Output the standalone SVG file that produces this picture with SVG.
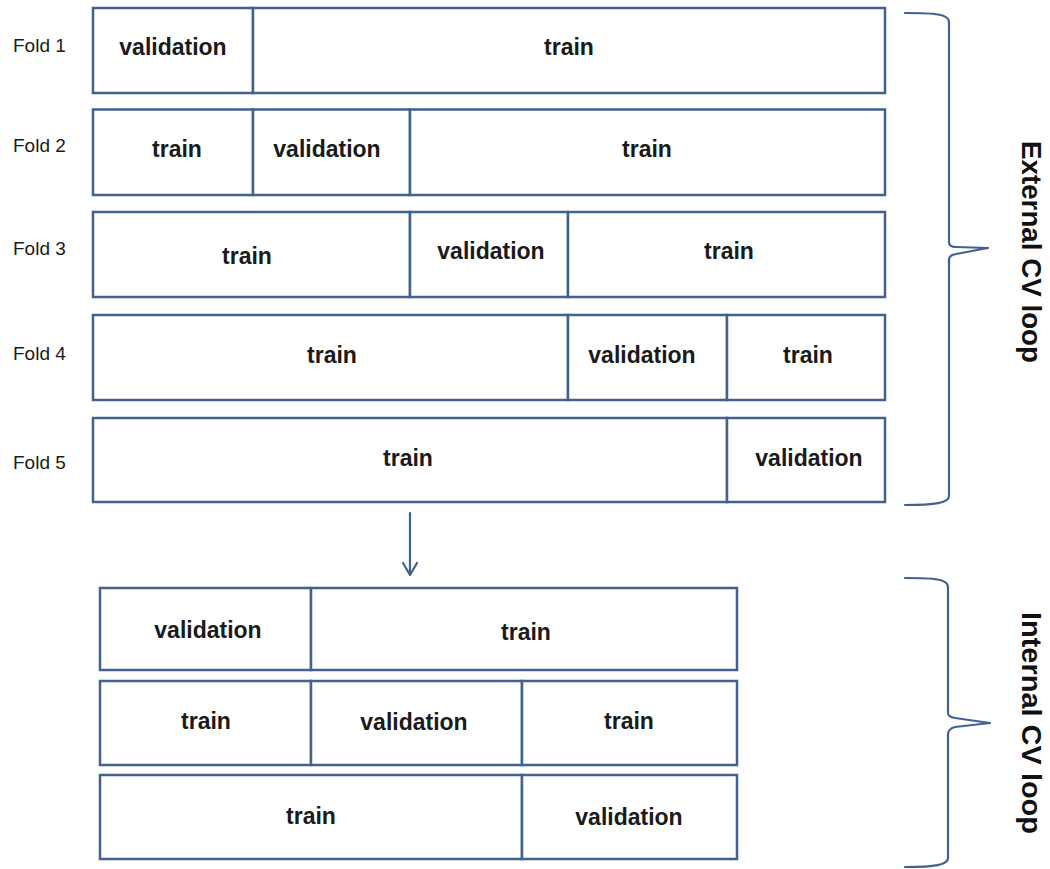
<svg xmlns="http://www.w3.org/2000/svg" width="1050" height="869" viewBox="0 0 1050 869">
<style>
.seg{fill:#fff;stroke:#41628f;stroke-width:2.5}
.lbl{font-family:"Liberation Sans",Arial,sans-serif;font-weight:bold;font-size:23px;fill:#1a1a1a;text-anchor:middle}
.fold{font-family:"Liberation Sans",Arial,sans-serif;font-size:19px;fill:#1a1a1a}
.side{font-family:"Liberation Sans",Arial,sans-serif;font-weight:bold;font-size:27px;fill:#111;text-anchor:middle}
.con{fill:none;stroke:#41628f;stroke-width:2.2;stroke-linejoin:round;stroke-linecap:round}
</style>
<rect width="1050" height="869" fill="#fff"/>
<g id="fold-labels">
<text class="fold" x="13" y="52">Fold 1</text>
<text class="fold" x="13" y="152">Fold 2</text>
<text class="fold" x="13" y="255">Fold 3</text>
<text class="fold" x="13" y="360">Fold 4</text>
<text class="fold" x="13" y="469">Fold 5</text>
</g>
<g id="fold1">
<rect class="seg" x="93" y="8" width="160" height="85"/>
<rect class="seg" x="253" y="8" width="632" height="85"/>
<text class="lbl" x="173" y="55">validation</text>
<text class="lbl" x="569" y="55">train</text>
</g>
<g id="fold2">
<rect class="seg" x="93" y="109.5" width="160" height="85.5"/>
<rect class="seg" x="253" y="109.5" width="157" height="85.5"/>
<rect class="seg" x="410" y="109.5" width="475" height="85.5"/>
<text class="lbl" x="177" y="157">train</text>
<text class="lbl" x="327" y="157">validation</text>
<text class="lbl" x="647" y="157">train</text>
</g>
<g id="fold3">
<rect class="seg" x="93" y="212" width="317" height="85"/>
<rect class="seg" x="410" y="212" width="158" height="85"/>
<rect class="seg" x="568" y="212" width="317" height="85"/>
<text class="lbl" x="247" y="264">train</text>
<text class="lbl" x="491" y="259">validation</text>
<text class="lbl" x="729" y="259">train</text>
</g>
<g id="fold4">
<rect class="seg" x="93" y="315" width="475" height="85"/>
<rect class="seg" x="568" y="315" width="159" height="85"/>
<rect class="seg" x="727" y="315" width="158" height="85"/>
<text class="lbl" x="332" y="363">train</text>
<text class="lbl" x="642" y="363">validation</text>
<text class="lbl" x="808" y="363">train</text>
</g>
<g id="fold5">
<rect class="seg" x="93" y="418" width="634" height="84"/>
<rect class="seg" x="727" y="418" width="158" height="84"/>
<text class="lbl" x="408" y="466">train</text>
<text class="lbl" x="809" y="466">validation</text>
</g>
<g id="inner1">
<rect class="seg" x="100" y="588" width="211" height="82"/>
<rect class="seg" x="311" y="588" width="426" height="82"/>
<text class="lbl" x="208" y="638">validation</text>
<text class="lbl" x="526" y="640">train</text>
</g>
<g id="inner2">
<rect class="seg" x="100" y="681" width="211" height="84"/>
<rect class="seg" x="311" y="681" width="211" height="84"/>
<rect class="seg" x="522" y="681" width="215" height="84"/>
<text class="lbl" x="206" y="729">train</text>
<text class="lbl" x="414" y="730">validation</text>
<text class="lbl" x="629" y="729">train</text>
</g>
<g id="inner3">
<rect class="seg" x="100" y="775" width="422" height="84"/>
<rect class="seg" x="522" y="775" width="215" height="84"/>
<text class="lbl" x="311" y="824">train</text>
<text class="lbl" x="629" y="825">validation</text>
</g>
<g id="external-label">
<text class="side" transform="translate(1022,252) rotate(90)" x="0" y="0" textLength="222" lengthAdjust="spacingAndGlyphs">External CV loop</text>
</g>
<g id="internal-label">
<text class="side" transform="translate(1022,723) rotate(90)" x="0" y="0" textLength="222" lengthAdjust="spacingAndGlyphs">Internal CV loop</text>
</g>
<g id="connectors">
<path class="con" d="M905,13 C935,13 949,14 949,22 L949,242 Q949,247 956,247 L988,248 L956,254 Q949,255 949,260 L949,496 C949,503 935,505 905,505"/>
<path class="con" d="M905,578 C935,578 948,579 948,587 L948,713 Q948,717 955,718 L990,723 L955,727 Q948,729 948,734 L948,858 C948,865 935,867 905,867"/>
<line class="con" x1="410" y1="513" x2="410" y2="574"/>
<polyline class="con" points="403,563 410,575 417,563"/>
</g>
</svg>
